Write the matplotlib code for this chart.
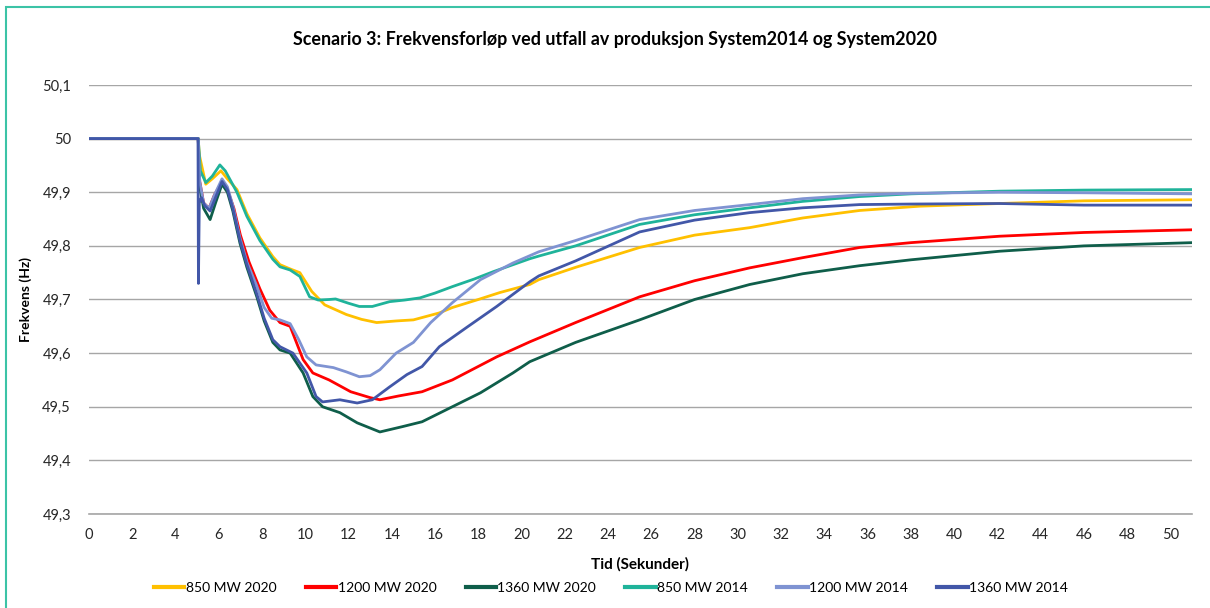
import matplotlib
matplotlib.use("Agg")
import matplotlib.pyplot as plt
from matplotlib.patches import Rectangle
from matplotlib.ticker import FuncFormatter, MultipleLocator

plt.rcParams["font.family"] = ["Lato", "DejaVu Sans"]

# 850 MW 2020
t_850_2020 = [0, 5.05, 5.1, 5.4, 5.7, 6.1, 6.4, 6.84, 7.3, 7.9, 8.5, 8.83, 9.3, 9.75, 10.3, 10.9, 11.9,
              12.6, 13.3, 14.2, 15.0, 16.2, 16.8, 18.0, 19.0, 20.38, 20.8, 22.5, 25.46, 28, 30.55, 33,
              35.63, 38.4, 42.1, 46, 51]
f_850_2020 = [50, 50, 49.97, 49.915, 49.925, 49.94, 49.925, 49.905, 49.86, 49.815, 49.78, 49.765, 49.757,
              49.75, 49.715, 49.69, 49.672, 49.663, 49.657, 49.66, 49.662, 49.675, 49.685, 49.70, 49.713,
              49.728, 49.737, 49.76, 49.797, 49.82, 49.834, 49.852, 49.866, 49.874, 49.879, 49.884, 49.886]

# 1200 MW 2020
t_1200_2020 = [0, 5.05, 5.12, 5.3, 5.55, 5.8, 6.15, 6.4, 6.7, 7.0, 7.4, 7.9, 8.36, 8.83, 9.3, 9.9, 10.35,
               11.1, 12.1, 13.0, 13.45, 14.3, 15.4, 16.8, 18.85, 20.38, 22.5, 25.46, 28, 30.55, 33, 35.63,
               38, 42.1, 46, 51]
f_1200_2020 = [50, 50, 49.92, 49.88, 49.87, 49.895, 49.92, 49.905, 49.87, 49.82, 49.77, 49.72, 49.68,
               49.657, 49.65, 49.588, 49.563, 49.55, 49.528, 49.517, 49.513, 49.52, 49.528, 49.55, 49.593,
               49.621, 49.657, 49.705, 49.735, 49.759, 49.778, 49.797, 49.806, 49.818, 49.825, 49.83]

# 1360 MW 2020
t_1360_2020 = [0, 5.05, 5.12, 5.3, 5.6, 5.85, 6.15, 6.4, 6.65, 6.98, 7.3, 7.76, 8.1, 8.5, 8.83, 9.3, 9.9,
               10.35, 10.8, 11.6, 12.4, 13.45, 14.5, 15.4, 16.5, 18.1, 19.6, 20.38, 22.5, 25.46, 28, 30.55,
               33, 35.63, 38, 42.1, 46, 51]
f_1360_2020 = [50, 50, 49.91, 49.87, 49.849, 49.88, 49.915, 49.9, 49.865, 49.805, 49.76, 49.705, 49.66,
               49.62, 49.606, 49.60, 49.563, 49.519, 49.50, 49.489, 49.47, 49.453, 49.463, 49.472, 49.494,
               49.526, 49.563, 49.584, 49.62, 49.662, 49.70, 49.728, 49.748, 49.763, 49.774, 49.79, 49.80,
               49.806]

# 850 MW 2014
t_850_2014 = [0, 5.05, 5.15, 5.4, 5.7, 6.05, 6.3, 6.84, 7.3, 7.9, 8.5, 8.83, 9.3, 9.75, 10.2, 10.6, 11.1,
              11.4, 12.0, 12.5, 13.1, 13.9, 14.6, 15.3, 16.0, 16.8, 17.8, 18.7, 20.38, 20.8, 22.5, 25.46, 28,
              30.55, 33, 35.63, 38, 42.1, 46, 51]
f_850_2014 = [50, 50, 49.94, 49.918, 49.93, 49.951, 49.94, 49.90, 49.855, 49.81, 49.775, 49.761, 49.755,
              49.743, 49.705, 49.699, 49.70, 49.701, 49.693, 49.687, 49.687, 49.696, 49.699, 49.703, 49.712,
              49.724, 49.738, 49.752, 49.776, 49.781, 49.80, 49.84, 49.858, 49.871, 49.883, 49.892, 49.897,
              49.902, 49.904, 49.905]

# 1200 MW 2014
t_1200_2014 = [0, 5.05, 5.12, 5.3, 5.55, 5.8, 6.15, 6.4, 6.65, 6.98, 7.3, 7.76, 8.1, 8.45, 8.83, 9.3, 9.7,
               10.07, 10.5, 11.3, 11.9, 12.5, 13.0, 13.45, 14.2, 15.0, 15.8, 16.8, 18.1, 19.6, 20.8, 22.5,
               25.46, 28, 30.55, 33, 35.63, 38, 42.1, 46, 51]
f_1200_2014 = [50, 50, 49.92, 49.88, 49.87, 49.895, 49.925, 49.91, 49.875, 49.815, 49.77, 49.725, 49.685,
               49.665, 49.662, 49.655, 49.625, 49.593, 49.578, 49.573, 49.565, 49.556, 49.558, 49.569, 49.60,
               49.62, 49.657, 49.694, 49.737, 49.768, 49.789, 49.81, 49.849, 49.866, 49.877, 49.888, 49.895,
               49.898, 49.90, 49.899, 49.897]

# 1360 MW 2014
t_1360_2014 = [0, 5.04, 5.06, 5.1, 5.2, 5.35, 5.6, 5.85, 6.15, 6.4, 6.65, 6.98, 7.3, 7.76, 8.1, 8.5, 8.83,
               9.43, 10.07, 10.5, 10.8, 11.6, 12.4, 13.1, 13.9, 14.7, 15.4, 16.2, 17.5, 18.85, 20.38, 20.8,
               22.5, 25.46, 28, 30.55, 33, 35.63, 38, 42.1, 46, 51]
f_1360_2014 = [50, 50.0, 49.73, 49.88, 49.89, 49.875, 49.865, 49.89, 49.92, 49.905, 49.87, 49.81, 49.765,
               49.71, 49.665, 49.625, 49.612, 49.60, 49.563, 49.519, 49.509, 49.513, 49.507, 49.513, 49.537,
               49.56, 49.575, 49.612, 49.649, 49.687, 49.733, 49.744, 49.772, 49.826, 49.848, 49.862, 49.871,
               49.877, 49.878, 49.879, 49.876, 49.876]

series = [
    ("850 MW 2020", t_850_2020, f_850_2020, "#FFC000"),
    ("1200 MW 2020", t_1200_2020, f_1200_2020, "#FF0000"),
    ("1360 MW 2020", t_1360_2020, f_1360_2020, "#0F5E4A"),
    ("850 MW 2014", t_850_2014, f_850_2014, "#1FB39A"),
    ("1200 MW 2014", t_1200_2014, f_1200_2014, "#7F93D2"),
    ("1360 MW 2014", t_1360_2014, f_1360_2014, "#4257A8"),
]

fig = plt.figure(figsize=(12.1, 6.08), dpi=100)
ax = fig.add_axes([89 / 1210, 1 - 514 / 608, 1103 / 1210, 429 / 608])

for name, t, f, c in series:
    ax.plot(t, f, color=c, lw=2.0, label=name, solid_joinstyle="round")

ax.set_xlim(0, 51)
ax.set_ylim(49.3, 50.1)
ax.xaxis.set_major_locator(MultipleLocator(2))
ax.yaxis.set_major_locator(MultipleLocator(0.1))
ax.yaxis.set_major_formatter(FuncFormatter(lambda v, p: f"{round(v, 1):g}".replace(".", ",")))
ax.grid(axis="y", color="#A6A6A6", lw=1.0)
ax.set_axisbelow(True)
for s in ["top", "left", "right"]:
    ax.spines[s].set_visible(False)
ax.spines["bottom"].set_color("#A6A6A6")
ax.spines["bottom"].set_linewidth(1.2)
ax.tick_params(axis="both", length=0, labelsize=10.5, colors="#262626")
ax.tick_params(axis="y", pad=13)
ax.tick_params(axis="x", pad=10)

ax.set_xlabel("Tid (Sekunder)", fontsize=11, fontweight="bold")
ax.xaxis.set_label_coords(0.4995, -0.100)
ax.set_ylabel("Frekvens (Hz)", fontsize=10, fontweight="bold")
ax.yaxis.set_label_coords(-0.052, 0.5)

fig.text(615 / 1210, 1 - 40 / 608,
         "Scenario 3: Frekvensforløp ved utfall av produksjon System2014 og System2020",
         ha="center", va="center", fontsize=12.9, fontweight="bold")

fig.legend(loc="center", bbox_to_anchor=(611 / 1210, 1 - 588 / 608), ncol=6, frameon=False,
           fontsize=10, handlelength=2.2, handletextpad=0.1, columnspacing=2.1)
for line in fig.legends[0].get_lines():
    line.set_linewidth(3)

fig.patches.append(Rectangle((6 / 1210, -0.1), 1.2, 1 - 7 / 608 + 0.1, transform=fig.transFigure,
                             fill=False, edgecolor="#3CC3A6", lw=1.5))

fig.savefig("out.png", dpi=100)
